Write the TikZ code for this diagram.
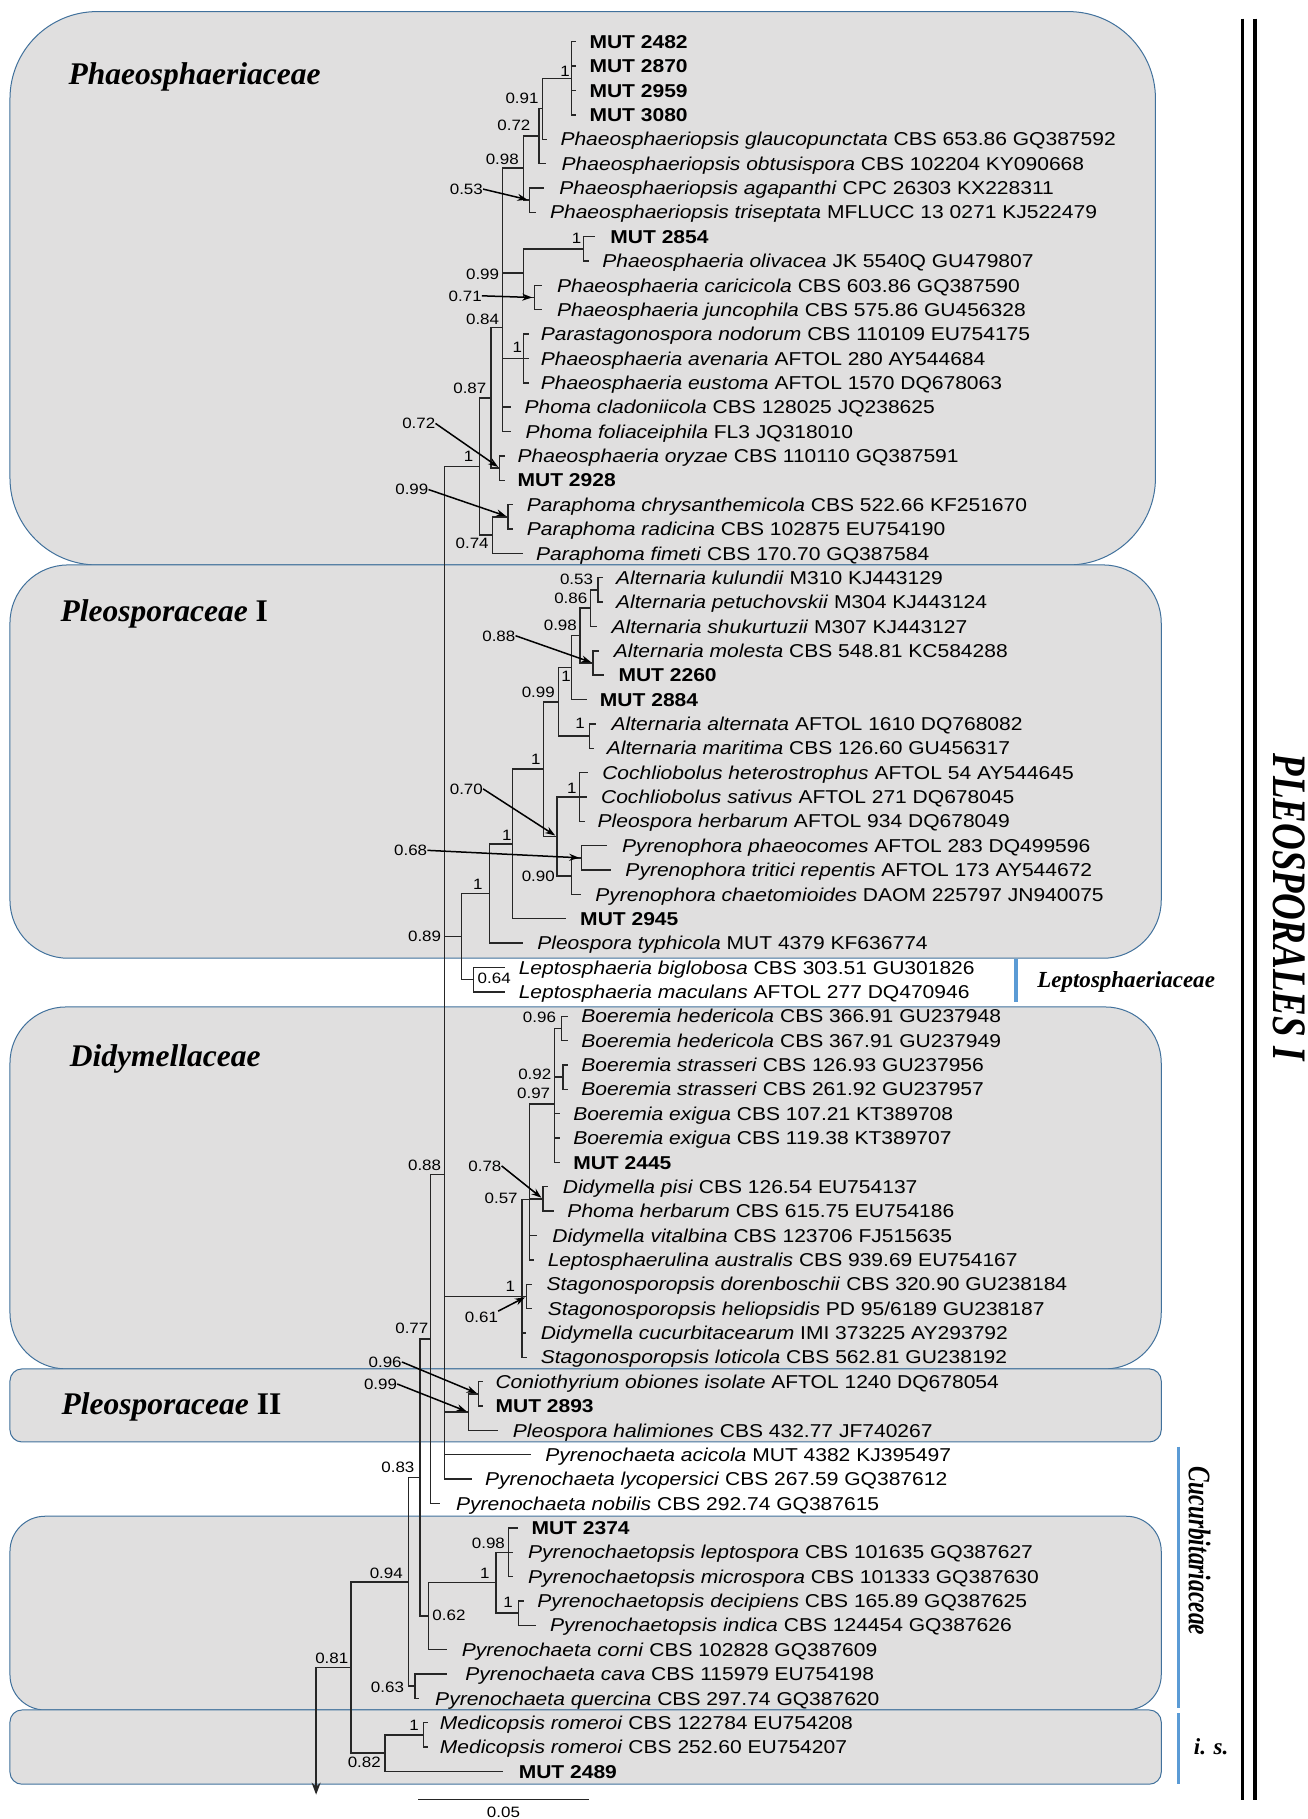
\documentclass[tikz,border=0pt]{standalone}
\usepackage{fontspec}
\usetikzlibrary{arrows.meta}
\newfontfamily\leaffont{Liberation Sans}[FakeStretch=1.13]
\newfontfamily\famfont{Liberation Serif}
\definecolor{boxfill}{RGB}{224,223,223}
\definecolor{boxline}{RGB}{65,113,156}
\definecolor{barblue}{RGB}{91,155,213}
\tikzset{
 br/.style={line width=1.4pt, draw=black!85, line cap=rect},
 box/.style={fill=boxfill, draw=boxline, line width=1pt},
 leaflab/.style={anchor=west, inner sep=0pt, text height=13.3pt, text depth=0pt, font=\leaffont\fontsize{18.6pt}{22pt}\selectfont},
 sup/.style={inner sep=0pt, text height=10.7pt, text depth=0pt, font=\leaffont\fontsize{15pt}{17pt}\selectfont},
 arr/.style={line width=1.5pt, draw=black, shorten >=2pt, -{Stealth[length=10pt,width=7pt]}},
 fam/.style={inner sep=0pt, anchor=base west, font=\famfont\fontsize{31.5pt}{36pt}\selectfont\bfseries\itshape},
 bluebar/.style={draw=barblue, line width=3.5pt},
}
\newcommand\leaf[5]{\coordinate (#1) at (#3,{15+21*#2}); \node[leaflab] (#1t) at (#4,{15+21*#2}) {#5};}
\newcommand\clade[4]{\draw[br] (#1 |- #2) -- (#1 |- #3); \foreach \ch in {#4}{\draw[br] (#1 |- \ch) -- (\ch);}}
\begin{document}
\begin{tikzpicture}[x=1.1597pt, y=-1.1597pt]
\useasboundingbox (0,0) rectangle (1127,1568);
% boxes
\draw[box, rounded corners=87pt] (8.6,10) rectangle (996,487);
\draw[box, rounded corners=58pt] (8.6,487) rectangle (1001,826);
\draw[box, rounded corners=56pt] (8.6,868) rectangle (1001,1180);
\draw[box, rounded corners=12pt] (8.6,1180) rectangle (1001,1243);
\draw[box, rounded corners=35pt] (8.6,1307) rectangle (1001,1474);
\draw[box, rounded corners=12pt] (8.6,1474) rectangle (1001,1538);
% family labels
\node[fam] (fPhaeo) at (59,72.5) {Phaeosphaeriaceae};
\node[fam] (fPleoI) at (52,535.5) {Pleosporaceae\upshape\ I};
\node[fam] (fDid) at (60,919.5) {Didymellaceae};
\node[fam] (fPleoII) at (53,1219.5) {Pleosporaceae\upshape\ II};
\node[fam, font=\famfont\fontsize{23pt}{26pt}\selectfont\bfseries\itshape] (fLep) at (894,851.5) {Leptosphaeriaceae};
\node[rotate=-90, inner sep=0pt] (fCuc) at (1034,1337) {\scalebox{0.75}[1]{\famfont\fontsize{31.3pt}{34pt}\selectfont\bfseries\itshape Cucurbitariaceae}};
\node[inner sep=0pt, font=\famfont\fontsize{23pt}{26pt}\selectfont\bfseries\itshape] (fis) at (1044,1506) {i. s.};
\node[rotate=-90, inner sep=0pt] (fOrd) at (1111,782) {\scalebox{0.77}[1]{\famfont\fontsize{48pt}{52pt}\selectfont\bfseries\itshape PLEOSPORALES I}};
% bars
\draw[bluebar] (876,827) -- (876,864);
\draw[bluebar] (1016,1247) -- (1016,1472);
\draw[bluebar] (1016,1477) -- (1016,1538);
\draw[line width=3.5pt] (1071,16) -- (1071,1552);
\draw[line width=3.5pt] (1082,16) -- (1082,1552);
% leaves
\leaf{l1}{1}{496}{508}{\textbf{MUT 2482}}
\leaf{l2}{2}{496}{508}{\textbf{MUT 2870}}
\leaf{l3}{3}{496}{508}{\textbf{MUT 2959}}
\leaf{l4}{4}{496}{508}{\textbf{MUT 3080}}
\leaf{l5}{5}{471}{483}{\textit{Phaeosphaeriopsis glaucopunctata} CBS 653.86 GQ387592}
\leaf{l6}{6}{470}{484}{\textit{Phaeosphaeriopsis obtusispora} CBS 102204 KY090668}
\leaf{l7}{7}{468}{482}{\textit{Phaeosphaeriopsis agapanthi} CPC 26303 KX228311}
\leaf{l8}{8}{461}{474}{\textit{Phaeosphaeriopsis triseptata} MFLUCC 13 0271 KJ522479}
\leaf{l9}{9}{512}{526}{\textbf{MUT 2854}}
\leaf{l10}{10}{507}{519}{\textit{Phaeosphaeria olivacea} JK 5540Q GU479807}
\leaf{l11}{11}{467}{480}{\textit{Phaeosphaeria caricicola} CBS 603.86 GQ387590}
\leaf{l12}{12}{467}{480}{\textit{Phaeosphaeria juncophila} CBS 575.86 GU456328}
\leaf{l13}{13}{455}{466}{\textit{Parastagonospora nodorum} CBS 110109 EU754175}
\leaf{l14}{14}{455}{466}{\textit{Phaeosphaeria avenaria} AFTOL 280 AY544684}
\leaf{l15}{15}{455}{466}{\textit{Phaeosphaeria eustoma} AFTOL 1570 DQ678063}
\leaf{l16}{16}{440}{452}{\textit{Phoma cladoniicola} CBS 128025 JQ238625}
\leaf{l17}{17}{440}{453}{\textit{Phoma foliaceiphila} FL3 JQ318010}
\leaf{l18}{18}{435}{446}{\textit{Phaeosphaeria oryzae} CBS 110110 GQ387591}
\leaf{l19}{19}{435}{446}{\textbf{MUT 2928}}
\leaf{l20}{20}{442}{454}{\textit{Paraphoma chrysanthemicola} CBS 522.66 KF251670}
\leaf{l21}{21}{442}{454}{\textit{Paraphoma radicina} CBS 102875 EU754190}
\leaf{l22}{22}{450}{462}{\textit{Paraphoma fimeti} CBS 170.70 GQ387584}
\leaf{l23}{23}{519}{531}{\textit{Alternaria kulundii} M310 KJ443129}
\leaf{l24}{24}{519}{531}{\textit{Alternaria petuchovskii} M304 KJ443124}
\leaf{l25}{25}{514}{527}{\textit{Alternaria shukurtuzii} M307 KJ443127}
\leaf{l26}{26}{516}{529}{\textit{Alternaria molesta} CBS 548.81 KC584288}
\leaf{l27}{27}{520}{533}{\textbf{MUT 2260}}
\leaf{l28}{28}{505}{517}{\textbf{MUT 2884}}
\leaf{l29}{29}{513}{527}{\textit{Alternaria alternata} AFTOL 1610 DQ768082}
\leaf{l30}{30}{511}{523}{\textit{Alternaria maritima} CBS 126.60 GU456317}
\leaf{l31}{31}{506}{519}{\textit{Cochliobolus heterostrophus} AFTOL 54 AY544645}
\leaf{l32}{32}{505}{518}{\textit{Cochliobolus sativus} AFTOL 271 DQ678045}
\leaf{l33}{33}{504}{515}{\textit{Pleospora herbarum} AFTOL 934 DQ678049}
\leaf{l34}{34}{523}{536}{\textit{Pyrenophora phaeocomes} AFTOL 283 DQ499596}
\leaf{l35}{35}{526}{539}{\textit{Pyrenophora tritici repentis} AFTOL 173 AY544672}
\leaf{l36}{36}{500}{513}{\textit{Pyrenophora chaetomioides} DAOM 225797 JN940075}
\leaf{l37}{37}{487}{500}{\textbf{MUT 2945}}
\leaf{l38}{38}{450}{463}{\textit{Pleospora typhicola} MUT 4379 KF636774}
\leaf{l39}{39}{435}{447}{\textit{Leptosphaeria biglobosa} CBS 303.51 GU301826}
\leaf{l40}{40}{435}{447}{\textit{Leptosphaeria maculans} AFTOL 277 DQ470946}
\leaf{l41}{41}{489}{501}{\textit{Boeremia hedericola} CBS 366.91 GU237948}
\leaf{l42}{42}{489}{501}{\textit{Boeremia hedericola} CBS 367.91 GU237949}
\leaf{l43}{43}{489}{501}{\textit{Boeremia strasseri} CBS 126.93 GU237956}
\leaf{l44}{44}{489}{501}{\textit{Boeremia strasseri} CBS 261.92 GU237957}
\leaf{l45}{45}{482}{494}{\textit{Boeremia exigua} CBS 107.21 KT389708}
\leaf{l46}{46}{482}{494}{\textit{Boeremia exigua} CBS 119.38 KT389707}
\leaf{l47}{47}{482}{494}{\textbf{MUT 2445}}
\leaf{l48}{48}{472}{485}{\textit{Didymella pisi} CBS 126.54 EU754137}
\leaf{l49}{49}{477}{489}{\textit{Phoma herbarum} CBS 615.75 EU754186}
\leaf{l50}{50}{462}{476}{\textit{Didymella vitalbina} CBS 123706 FJ515635}
\leaf{l51}{51}{460}{472}{\textit{Leptosphaerulina australis} CBS 939.69 EU754167}
\leaf{l52}{52}{458}{471}{\textit{Stagonosporopsis dorenboschii} CBS 320.90 GU238184}
\leaf{l53}{53}{458}{472}{\textit{Stagonosporopsis heliopsidis} PD 95/6189 GU238187}
\leaf{l54}{54}{453}{466}{\textit{Didymella cucurbitacearum} IMI 373225 AY293792}
\leaf{l55}{55}{454}{466}{\textit{Stagonosporopsis loticola} CBS 562.81 GU238192}
\leaf{l56}{56}{416}{427}{\textit{Coniothyrium obiones isolate} AFTOL 1240 DQ678054}
\leaf{l57}{57}{416}{427}{\textbf{MUT 2893}}
\leaf{l58}{58}{429}{442}{\textit{Pleospora halimiones} CBS 432.77 JF740267}
\leaf{l59}{59}{457}{470}{\textit{Pyrenochaeta acicola} MUT 4382 KJ395497}
\leaf{l60}{60}{406}{418}{\textit{Pyrenochaeta lycopersici} CBS 267.59 GQ387612}
\leaf{l61}{61}{379}{393}{\textit{Pyrenochaeta nobilis} CBS 292.74 GQ387615}
\leaf{l62}{62}{446}{458}{\textbf{MUT 2374}}
\leaf{l63}{63}{442}{455}{\textit{Pyrenochaetopsis leptospora} CBS 101635 GQ387627}
\leaf{l64}{64}{442}{455}{\textit{Pyrenochaetopsis microspora} CBS 101333 GQ387630}
\leaf{l65}{65}{451}{463}{\textit{Pyrenochaetopsis decipiens} CBS 165.89 GQ387625}
\leaf{l66}{66}{461}{474}{\textit{Pyrenochaetopsis indica} CBS 124454 GQ387626}
\leaf{l67}{67}{385}{398}{\textit{Pyrenochaeta corni} CBS 102828 GQ387609}
\leaf{l68}{68}{385}{401}{\textit{Pyrenochaeta cava} CBS 115979 EU754198}
\leaf{l69}{69}{361}{375}{\textit{Pyrenochaeta quercina} CBS 297.74 GQ387620}
\leaf{l70}{70}{368}{379}{\textit{Medicopsis romeroi} CBS 122784 EU754208}
\leaf{l71}{71}{368}{379}{\textit{Medicopsis romeroi} CBS 252.60 EU754207}
\leaf{l72}{72}{433}{447}{\textbf{MUT 2489}}
% internal nodes
\coordinate (nMUT4) at (492.6,67.5);
\coordinate (n091) at (467.5,93.75);
\coordinate (n072) at (464.6,117.38);
\coordinate (n053a) at (456.3,172.5);
\coordinate (n098a) at (451.4,144.94);
\coordinate (n2854) at (503,214.5);
\coordinate (n071) at (460.5,256.5);
\coordinate (n099a) at (451.3,235.5);
\coordinate (n1a) at (451.4,309);
\coordinate (n084) at (433,282.49);
\coordinate (nory) at (430.8,403.5);
\coordinate (n087) at (423.4,342.99);
\coordinate (nparaph) at (438,445.5);
\coordinate (n074) at (424.6,461.25);
\coordinate (nPhaeo) at (413.5,402.12);
\coordinate (n053b) at (515.4,508.5);
\coordinate (n086) at (509.2,524.25);
\coordinate (n088b) at (511.3,571.5);
\coordinate (n098b) at (500.1,547.88);
\coordinate (n1g) at (492.7,575.44);
\coordinate (naltmar) at (508,634.5);
\coordinate (n099b) at (481.2,604.97);
\coordinate (n1f) at (499.6,687);
\coordinate (n068) at (501,739.5);
\coordinate (n090) at (492.4,755.25);
\coordinate (n070) at (480,721.13);
\coordinate (n1e) at (468.5,663.05);
\coordinate (n1d) at (442,727.52);
\coordinate (n1c) at (422,770.26);
\coordinate (nlep) at (408,844.5);
\coordinate (n089) at (398,807.38);
\coordinate (n096) at (484,886.5);
\coordinate (n092) at (485.3,928.5);
\coordinate (n097) at (478.2,951.6);
\coordinate (n078) at (468,1033.5);
\coordinate (n057) at (456.4,1034.03);
\coordinate (n061) at (454,1117.5);
\coordinate (nDid) at (449.8,1117.63);
\coordinate (n096c) at (412.5,1201.5);
\coordinate (n099c) at (403.8,1217.25);
\coordinate (nB) at (383,1012.23);
\coordinate (n088) at (371.2,1154.12);
\coordinate (n098d) at (438.3,1338);
\coordinate (n1j) at (447,1390.5);
\coordinate (n1i) at (427.7,1364.25);
\coordinate (n062) at (369.4,1393.13);
\coordinate (n077) at (362.2,1273.62);
\coordinate (n063) at (357.9,1453.5);
\coordinate (n083) at (352.1,1363.56);
\coordinate (n1k) at (365,1495.5);
\coordinate (n082) at (332,1511.25);
\coordinate (n081) at (302.7,1437.41);
\coordinate (root) at (272.5,1437.41);
\coordinate (rootend) at (272.5,1547);
% clades
\clade{nMUT4}{l1}{l4}{l1,l2,l3,l4}
\clade{n091}{nMUT4}{l5}{nMUT4,l5}
\clade{n072}{n091}{l6}{n091,l6}
\clade{n053a}{l7}{l8}{l7,l8}
\clade{n098a}{n072}{n053a}{n072,n053a}
\clade{n2854}{l9}{l10}{l9,l10}
\clade{n071}{l11}{l12}{l11,l12}
\clade{n099a}{n2854}{n071}{n2854,n071}
\clade{n1a}{l13}{l15}{l13,l14,l15}
\clade{n084}{n098a}{l17}{n098a,n099a,n1a,l16,l17}
\clade{nory}{l18}{l19}{l18,l19}
\clade{n087}{n084}{nory}{n084,nory}
\clade{nparaph}{l20}{l21}{l20,l21}
\clade{n074}{nparaph}{l22}{nparaph,l22}
\clade{nPhaeo}{n087}{n074}{n087,n074}
\clade{n053b}{l23}{l24}{l23,l24}
\clade{n086}{n053b}{l25}{n053b,l25}
\clade{n088b}{l26}{l27}{l26,l27}
\clade{n098b}{n086}{n088b}{n086,n088b}
\clade{n1g}{n098b}{l28}{n098b,l28}
\clade{naltmar}{l29}{l30}{l29,l30}
\clade{n099b}{n1g}{naltmar}{n1g,naltmar}
\clade{n1f}{l31}{l33}{l31,l32,l33}
\clade{n068}{l34}{l35}{l34,l35}
\clade{n090}{n068}{l36}{n068,l36}
\clade{n070}{n1f}{n090}{n1f,n090}
\clade{n1e}{n099b}{n070}{n099b,n070}
\clade{n1d}{n1e}{l37}{n1e,l37}
\clade{n1c}{n1d}{l38}{n1d,l38}
\clade{nlep}{l39}{l40}{l39,l40}
\clade{n089}{n1c}{nlep}{n1c,nlep}
\clade{n096}{l41}{l42}{l41,l42}
\clade{n092}{l43}{l44}{l43,l44}
\clade{n097}{n096}{l47}{n096,n092,l45,l46,l47}
\clade{n078}{l48}{l49}{l48,l49}
\clade{n057}{n097}{l51}{n097,n078,l50,l51}
\clade{n061}{l52}{l53}{l52,l53}
\clade{nDid}{n057}{l55}{n057,n061,l54,l55}
\clade{n096c}{l56}{l57}{l56,l57}
\clade{n099c}{n096c}{l58}{n096c,l58}
\clade{nB}{nPhaeo}{l60}{nPhaeo,n089,nDid,n099c,l59,l60}
\clade{n088}{nB}{l61}{nB,l61}
\clade{n098d}{l62}{l64}{l62,l63,l64}
\clade{n1j}{l65}{l66}{l65,l66}
\clade{n1i}{n098d}{n1j}{n098d,n1j}
\clade{n062}{n1i}{l67}{n1i,l67}
\clade{n077}{n088}{n062}{n088,n062}
\clade{n063}{l68}{l69}{l68,l69}
\clade{n083}{n077}{n063}{n077,n063}
\clade{n1k}{l70}{l71}{l70,l71}
\clade{n082}{n1k}{l72}{n1k,l72}
\clade{n081}{n083}{n082}{n083,n082}
\draw[br] (root) -- (n081);
\draw[br, -{Stealth[length=12pt,width=9pt]}] (root) -- (rootend);
% support values
\node[sup] (smut4) at (487,61) {1};
\node[sup] (s091) at (450,85) {0.91};
\node[sup] (s072) at (443,108) {0.72};
\node[sup] (s098a) at (433,137) {0.98};
\node[sup] (s053a) at (402,163) {0.53};
\node[sup] (s2854) at (497,205) {1};
\node[sup] (s099a) at (416,236) {0.99};
\node[sup] (s071) at (401,255) {0.71};
\node[sup] (s084) at (416,275) {0.84};
\node[sup] (s1a) at (446,299) {1};
\node[sup] (s087) at (405,335) {0.87};
\node[sup] (sory) at (361,365) {0.72};
\node[sup] (sPhaeo) at (404,393) {1};
\node[sup] (sparaph) at (355,422) {0.99};
\node[sup] (s074) at (407,468) {0.74};
\node[sup] (s053b) at (497,499) {0.53};
\node[sup] (s086) at (492,516) {0.86};
\node[sup] (s098b) at (483,539) {0.98};
\node[sup] (s088b) at (430,548) {0.88};
\node[sup] (s1g) at (488,583) {1};
\node[sup] (s099b) at (464,597) {0.99};
\node[sup] (saltmar) at (500,623) {1};
\node[sup] (s1e) at (462,654) {1};
\node[sup] (s070) at (402,680) {0.70};
\node[sup] (s1f) at (493,679) {1};
\node[sup] (s1d) at (437,720) {1};
\node[sup] (s068) at (354,733) {0.68};
\node[sup] (s090) at (464,755) {0.90};
\node[sup] (s1c) at (412,762) {1};
\node[sup] (s089) at (366,807) {0.89};
\node[sup] (slep) at (426,843) {0.64};
\node[sup] (s096) at (465,877) {0.96};
\node[sup] (s092) at (461,926) {0.92};
\node[sup] (s097) at (460,942) {0.97};
\node[sup] (s088) at (366,1004) {0.88};
\node[sup] (s078) at (418,1005) {0.78};
\node[sup] (s057) at (432,1033) {0.57};
\node[sup] (sDid) at (440,1109) {1};
\node[sup] (s061) at (415,1135) {0.61};
\node[sup] (s077) at (355,1145) {0.77};
\node[sup] (s096c) at (332,1174) {0.96};
\node[sup] (s099c) at (328,1193) {0.99};
\node[sup] (s083) at (343,1265) {0.83};
\node[sup] (s098d) at (421,1330) {0.98};
\node[sup] (s1i) at (418,1356) {1};
\node[sup] (s094) at (333,1356) {0.94};
\node[sup] (s1j) at (438,1381) {1};
\node[sup] (s062) at (387,1392) {0.62};
\node[sup] (s081) at (286,1429) {0.81};
\node[sup] (s063) at (334,1454) {0.63};
\node[sup] (s1k) at (357,1487) {1};
\node[sup] (s082) at (314,1519) {0.82};
% arrows
\draw[arr] (s053a.east) -- (n053a);
\draw[arr] (s071.east) -- (n071);
\draw[arr] (sory.east) -- (nory);
\draw[arr] (sparaph.east) -- (nparaph);
\draw[arr] (s088b.east) -- (n088b);
\draw[arr] (s070.east) -- (n070);
\draw[arr] (s068.east) -- (n068);
\draw[arr] (s078.east) -- (n078);
\draw[arr] (s061.north east) -- (n061);
\draw[arr] (s096c.east) -- (n096c);
\draw[arr] (s099c.east) -- (n099c);
% scale bar
\coordinate (sb1) at (361,1551);
\coordinate (sb2) at (507,1551);
\draw[br] (sb1) -- (sb2);
\node[sup] (sbl) at (434,1562) {0.05};
\end{tikzpicture}
\end{document}
